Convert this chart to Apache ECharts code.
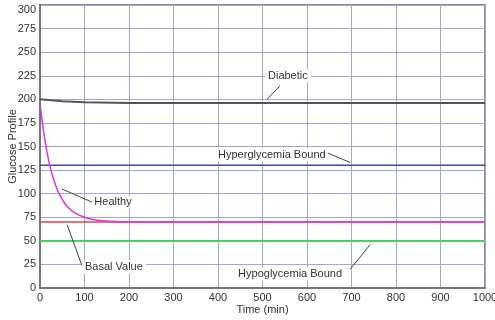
<!DOCTYPE html>
<html>
<head>
<meta charset="utf-8">
<script src="https://cdn.jsdelivr.net/npm/echarts@6/dist/echarts.min.js"></script>
<style>
  html, body { margin: 0; padding: 0; background: #fff; }
  #main { width: 495px; height: 320px; }
</style>
</head>
<body>
<div id="main"></div>
<script>
// 时间轴 (min)
var timeTicks = [0, 100, 200, 300, 400, 500, 600, 700, 800, 900, 1000];
// 健康曲线
var healthyT = [0, 10, 20, 30, 40, 50, 60, 80, 100, 125, 150, 200, 1000];
var healthyY = [195, 160, 134, 116, 103, 94, 87, 79, 75, 72, 71, 70, 70];
// 糖尿病曲线
var diabeticT = [0, 50, 100, 200, 1000];
var diabeticY = [200, 198, 197, 196, 196];
// 水平参考线
var basalValue = 70;
var hyperBound = 130;
var hypoBound = 50;
// 注释: 文字位置 + 引线 (数据坐标)
var notes = [
    { text: 'Diabetic',            at: [557, 225], from: [539, 214], to: [510, 200] },
    { text: 'Hyperglycemia Bound', at: [521, 141], from: [647, 143], to: [697, 133] },
    { text: 'Healthy',             at: [164, 91],  from: [117, 91],  to: [49, 105] },
    { text: 'Basal Value',         at: [166, 22],  from: [94, 24],   to: [61, 67] },
    { text: 'Hypoglycemia Bound',  at: [562, 15],  from: [697, 20],  to: [742, 46] }
];

function pairs(xs, ys) {
    return xs.map(function (x, i) { return [x, ys[i]]; });
}
function flat(v) {
    return [[0, v], [1000, v]];
}

var gridColor = '#a4a4e4';
var font = 'Liberation Sans, Arial, sans-serif';

var myChart = echarts.init(document.getElementById('main'));

var option = {
    animation: false,
    backgroundColor: '#fff',
    grid: { left: 40, right: 10, top: 5, bottom: 32, show: true,
            containLabel: false, outerBoundsMode: 'none',
            borderColor: '#8a8a8a', borderWidth: 2, backgroundColor: '#fff' },
    xAxis: {
        type: 'value', min: 0, max: 1000, interval: 100,
        name: 'Time (min)', nameLocation: 'middle', nameGap: 16, nameMoveOverlap: false,
        nameTextStyle: { fontFamily: font, fontSize: 11, color: '#333' },
        axisLine: { lineStyle: { color: '#777', width: 2 } },
        axisTick: { show: false },
        axisLabel: { fontFamily: font, fontSize: 11, color: '#333', margin: 4,
                     formatter: function (v) { return String(v); } },
        splitLine: { lineStyle: { color: gridColor, width: 1 } }
    },
    yAxis: {
        type: 'value', min: 0, max: 300, interval: 25,
        name: 'Glucose Profile', nameLocation: 'middle', nameGap: 22, nameMoveOverlap: false,
        nameTextStyle: { fontFamily: font, fontSize: 11, color: '#333' },
        axisLine: { show: true, lineStyle: { color: '#777', width: 2 } },
        axisTick: { show: false },
        axisLabel: { fontFamily: font, fontSize: 11, color: '#333', margin: 4,
                     formatter: function (v) { return v === 300 ? '{top|300}' : String(v); },
                     rich: { top: { fontFamily: font, fontSize: 11, color: '#333', padding: [10, 0, 0, 0] } } },
        splitLine: { lineStyle: { color: gridColor, width: 1 } }
    },
    series: [
        { name: 'Hyperglycemia Bound', type: 'line', data: flat(hyperBound), symbol: 'none',
          lineStyle: { color: '#4848a0', width: 1.5 } },
        { name: 'Hypoglycemia Bound', type: 'line', data: flat(hypoBound), symbol: 'none',
          lineStyle: { color: '#33dd33', width: 1.5 } },
        { name: 'Basal Value', type: 'line', data: flat(basalValue), symbol: 'none',
          lineStyle: { color: '#dd4444', width: 1.5 } },
        { name: 'Healthy', type: 'line', data: pairs(healthyT, healthyY), symbol: 'none', smooth: 0.3,
          lineStyle: { color: '#dd33dd', width: 1.5 } },
        { name: 'Diabetic', type: 'line', data: pairs(diabeticT, diabeticY), symbol: 'none',
          lineStyle: { color: '#555', width: 2 } }
    ]
};
myChart.setOption(option);

// 注释文字和引线
var graphics = [];
notes.forEach(function (n) {
    var p = myChart.convertToPixel({ gridIndex: 0 }, n.at);
    var a = myChart.convertToPixel({ gridIndex: 0 }, n.from);
    var b = myChart.convertToPixel({ gridIndex: 0 }, n.to);
    graphics.push({
        type: 'line', z: 100,
        shape: { x1: a[0], y1: a[1], x2: b[0], y2: b[1] },
        style: { stroke: '#444', lineWidth: 1 }
    });
    graphics.push({
        type: 'text', z: 99, x: p[0], y: p[1],
        style: { text: n.text, font: '11px ' + font, fill: '#333',
                 align: 'center', verticalAlign: 'middle',
                 backgroundColor: '#fff', padding: [1, 3] }
    });
});
myChart.setOption({ graphic: graphics });
</script>
</body>
</html>
